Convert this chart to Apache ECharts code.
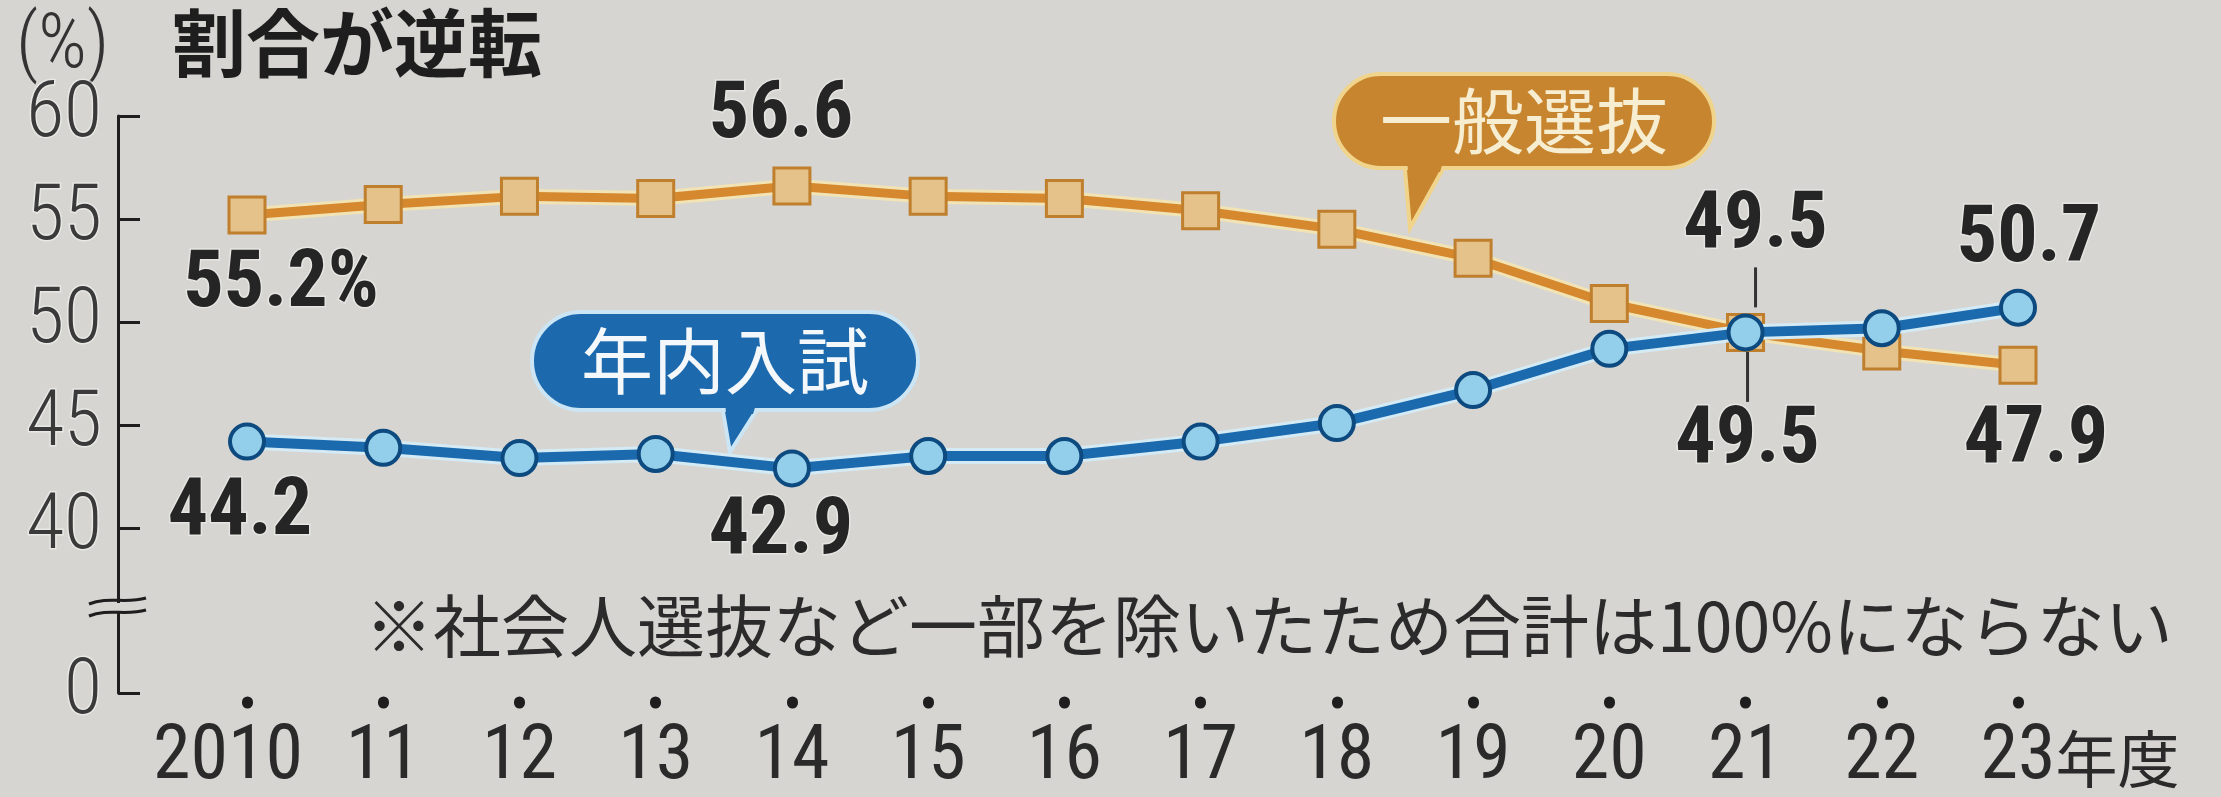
<!DOCTYPE html>
<html><head><meta charset="utf-8">
<script src="https://cdn.jsdelivr.net/npm/echarts@6/dist/echarts.min.js"></script>
<style>html,body{margin:0;padding:0;background:#d6d5d1;}#c{width:2221px;height:797px;}</style>
</head><body><div id="c"></div>
<script>
// ---- data ----
const years = ['2010','11','12','13','14','15','16','17','18','19','20','21','22','23'];
const generalSelection = [55.2, 55.7, 56.1, 56.0, 56.6, 56.1, 56.0, 55.4, 54.5, 53.1, 50.9, 49.5, 48.6, 47.9]; // 一般選抜
const yearEndAdmission = [44.2, 43.9, 43.4, 43.6, 42.9, 43.5, 43.5, 44.2, 45.1, 46.7, 48.7, 49.5, 49.7, 50.7]; // 年内入試
const yTickValues = [32, 40, 45, 50, 55, 60]; // 32 is where the broken axis shows "0"
const yTickText = ['0', '40', '45', '50', '55', '60'];
const seriesNames = ['一般選抜', '年内入試'];
const titleText = '割合が逆転';
const unitText = '(%)';
const noteText = '※社会人選抜など一部を除いたため合計は100%にならない';

// ---- styling ----
const NARROW = "Roboto, 'DejaVu Sans', sans-serif";
const COND = 'condensed';
const JP = "'Noto Sans CJK JP','Noto Sans CJK SC',sans-serif";
const BG = '#d6d5d1';
const VFS = 80;
const valStyle = {fontFamily: NARROW, fontStyle: COND, fontSize: VFS, fontWeight: 'bold', color: '#252525',
  textBorderColor: 'rgba(232,232,228,0.85)', textBorderWidth: 3};
function lbl(pos, dist, off, fmt) {
  const o = Object.assign({show: true, position: pos, distance: dist, offset: off}, valStyle);
  if (fmt) o.formatter = fmt;
  return o;
}
const richLine = {
  v: {fontFamily: NARROW, fontStyle: COND, fontSize: VFS, fontWeight: 'bold', color: '#252525', lineHeight: VFS,
      textBorderColor: 'rgba(232,232,228,0.85)', textBorderWidth: 3},
  ln: {width: 3, height: 40, backgroundColor: '#333'},
  ln2: {width: 3, height: 50, backgroundColor: '#333'}
};
const genLabels = {
  0: lbl('bottom', 12, [34, 0], p => p.value.toFixed(1) + '%'),
  4: lbl('top', 10, [-11, 0]),
  11: {show: true, position: 'bottom', distance: 0, offset: [2, 0], rich: richLine,
       formatter: p => '{ln2|}\n{v|' + p.value.toFixed(1) + '}'},
  13: lbl('bottom', 17, [18, 0])
};
const yeaLabels = {
  0: lbl('bottom', 13, [-7, 0]),
  4: lbl('bottom', 6, [-11, 0]),
  11: {show: true, position: 'top', distance: 2, offset: [10, -4], rich: richLine,
       formatter: p => '{v|' + p.value.toFixed(1) + '}\n{ln|}'},
  13: lbl('top', 5, [11, -3])
};
function items(vals, labels) {
  return vals.map((v, i) => labels[i] ? {value: v, label: labels[i]} : {value: v});
}
const XFS = 76;
const xFont = {fontFamily: NARROW, fontStyle: COND, fontSize: XFS, color: '#2a2a2a'};

const chart = echarts.init(document.getElementById('c'), null, {renderer: 'canvas'});
const option = {
  backgroundColor: BG,
  animation: false,
  grid: {left: 247, right: 203, top: 116, bottom: 97, containLabel: false},
  xAxis: {
    type: 'category', data: years, boundaryGap: false, offset: 9,
    axisLine: {show: false},
    axisTick: {show: true, length: 1, interval: 0, lineStyle: {width: 11, cap: 'round', color: '#1e1e1e'}},
    axisLabel: Object.assign({
      interval: 0, margin: 19,
      formatter: (v, i) => i === 0 ? '{s|' + v + '}' : (i === years.length - 1 ? '{pad|}' + v + '{u|年度}' : v),
      rich: {
        s: Object.assign({padding: [0, 38, 0, 0]}, xFont),
        pad: {width: 124},
        u: {fontFamily: JP, fontSize: 62, color: '#2a2a2a', width: 124}
      }
    }, xFont),
    splitLine: {show: false}
  },
  yAxis: {
    type: 'value', min: 32, max: 60, offset: 129,
    axisLine: {show: true, lineStyle: {color: '#1e1e1e', width: 3}},
    axisTick: {show: true, inside: true, length: 22, customValues: yTickValues,
      lineStyle: {color: '#1e1e1e', width: 3}},
    axisLabel: {customValues: yTickValues, margin: 16, fontFamily: NARROW, fontStyle: COND, fontWeight: 300,
      fontSize: 78, color: '#3a3a3a',
      formatter: v => yTickText[yTickValues.indexOf(v)] ?? '',
      textBorderColor: 'rgba(240,240,236,0.7)', textBorderWidth: 3},
    splitLine: {show: false}
  },
  series: [
    {type: 'line', name: seriesNames[0] + '_halo', data: generalSelection, symbol: 'none', silent: true, z: 2,
     lineStyle: {color: '#f2e3b4', width: 15}, emphasis: {disabled: true}},
    {type: 'line', name: seriesNames[0], data: items(generalSelection, genLabels), symbol: 'rect', symbolSize: 36, z: 3,
     lineStyle: {color: '#d5882e', width: 9},
     itemStyle: {color: '#e6c28b', borderColor: '#bf7f2c', borderWidth: 3},
     label: {show: false}, emphasis: {disabled: true}},
    {type: 'line', name: seriesNames[1] + '_halo', data: yearEndAdmission, symbol: 'none', silent: true, z: 4,
     lineStyle: {color: '#d4ebf5', width: 16}, emphasis: {disabled: true}},
    {type: 'line', name: seriesNames[1], data: items(yearEndAdmission, yeaLabels), symbol: 'circle', symbolSize: 34, z: 5,
     lineStyle: {color: '#1c6aae', width: 10},
     itemStyle: {color: '#93cfea', borderColor: '#0d4a80', borderWidth: 4},
     label: {show: false}, emphasis: {disabled: true}}
  ],
  graphic: [
    {type: 'text', left: 16, top: 10, style: {text: unitText, font: COND + ' 300 76px ' + NARROW, fill: '#333'}},
    {type: 'text', left: 172, top: 6, style: {text: titleText, font: 'bold 74px ' + JP, fill: '#1e1e1e'}},
    {type: 'text', left: 365, top: 592, style: {text: noteText, font: '68px ' + JP, fill: '#2b2b2b'}},
    // axis break
    {type: 'rect', shape: {x: 110, y: 603, width: 16, height: 9}, style: {fill: BG}, z: 10},
    {type: 'bezierCurve', shape: {x1: 89, y1: 604, cpx1: 108, cpy1: 596, cpx2: 126, cpy2: 604, x2: 146, y2: 598},
     style: {stroke: '#1e1e1e', lineWidth: 3, fill: null}, z: 11},
    {type: 'bezierCurve', shape: {x1: 89, y1: 616, cpx1: 108, cpy1: 608, cpx2: 126, cpy2: 616, x2: 146, y2: 610},
     style: {stroke: '#1e1e1e', lineWidth: 3, fill: null}, z: 11},
    // callout 年内入試
    {type: 'group', z: 20, children: [
      {type: 'polygon', shape: {points: [[721, 400], [763, 400], [730, 452]]}, style: {fill: '#1c69ad', stroke: '#cbe5f4', lineWidth: 4}},
      {type: 'rect', shape: {x: 532, y: 312, width: 386, height: 98, r: 49}, style: {fill: '#1c69ad', stroke: '#cbe5f4', lineWidth: 4}},
      {type: 'polygon', shape: {points: [[725, 398], [758, 398], [753, 414], [726, 414]]}, style: {fill: '#1c69ad'}},
      {type: 'text', x: 725, y: 361, style: {text: seriesNames[1], font: '72px ' + JP, fill: '#f4f8fb', align: 'center', verticalAlign: 'middle'}}
    ]},
    // callout 一般選抜
    {type: 'group', z: 20, children: [
      {type: 'polygon', shape: {points: [[1404, 158], [1449, 158], [1410, 228]]}, style: {fill: '#c7852f', stroke: '#f1d48c', lineWidth: 4}},
      {type: 'rect', shape: {x: 1334, y: 74, width: 380, height: 94, r: 47}, style: {fill: '#c7852f', stroke: '#f1d48c', lineWidth: 4}},
      {type: 'polygon', shape: {points: [[1407, 156], [1445, 156], [1440, 172], [1408, 172]]}, style: {fill: '#c7852f'}},
      {type: 'text', x: 1524, y: 121, style: {text: seriesNames[0], font: '72px ' + JP, fill: '#f7eed2', align: 'center', verticalAlign: 'middle'}}
    ]}
  ]
};
chart.setOption(option);
</script></body></html>
